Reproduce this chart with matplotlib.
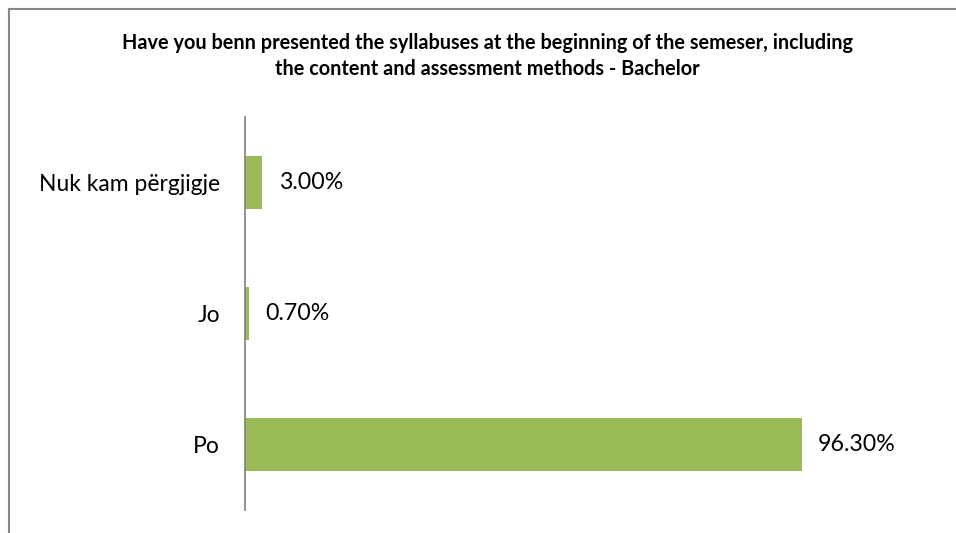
import matplotlib
matplotlib.use('Agg')
import matplotlib.pyplot as plt
from matplotlib.lines import Line2D

# Data
categories = ['Po', 'Jo', 'Nuk kam përgjigje']
values = [96.3, 0.7, 3.0]
title = ('Have you benn presented the syllabuses at the beginning of the semeser, including\n'
         'the content and assessment methods - Bachelor')

bar_color = '#9bbb59'
border_color = '#878787'

plt.rcParams['font.family'] = ['Lato', 'DejaVu Sans']

fig = plt.figure(figsize=(9.56, 5.33), dpi=100)
ax = fig.add_axes([245 / 956, 1 - 510 / 533, 694 / 956, 393 / 533])

y = range(len(categories))
ax.barh(y, values, height=0.4, color=bar_color)
ax.set_xlim(0, 120)
ax.set_ylim(-0.5, 2.5)

# value labels
for yi, v in zip(y, values):
    ax.text(v + 2.8, yi, '{:.2f}%'.format(v), va='center', ha='left', fontsize=16.7, color='black')

ax.set_yticks(list(y))
ax.set_yticklabels(categories, fontsize=16.5)
ax.tick_params(axis='y', length=0, pad=18)
ax.set_xticks([])
for side in ['top', 'right', 'bottom']:
    ax.spines[side].set_visible(False)
ax.spines['left'].set_color('#808080')
ax.spines['left'].set_linewidth(1.2)

fig.text(487 / 956, 1 - 56 / 533, title, ha='center', va='center', fontsize=14.3,
         fontweight='bold', linespacing=1.4)

# chart border (only left and top visible in the crop)
fig.add_artist(Line2D([8.5 / 956, 8.5 / 956], [0, 1 - 9 / 533], color=border_color, lw=1.5,
                      transform=fig.transFigure))
fig.add_artist(Line2D([8.5 / 956, 1], [1 - 9 / 533, 1 - 9 / 533], color=border_color, lw=1.5,
                      transform=fig.transFigure))

fig.savefig('out.png', dpi=100)
